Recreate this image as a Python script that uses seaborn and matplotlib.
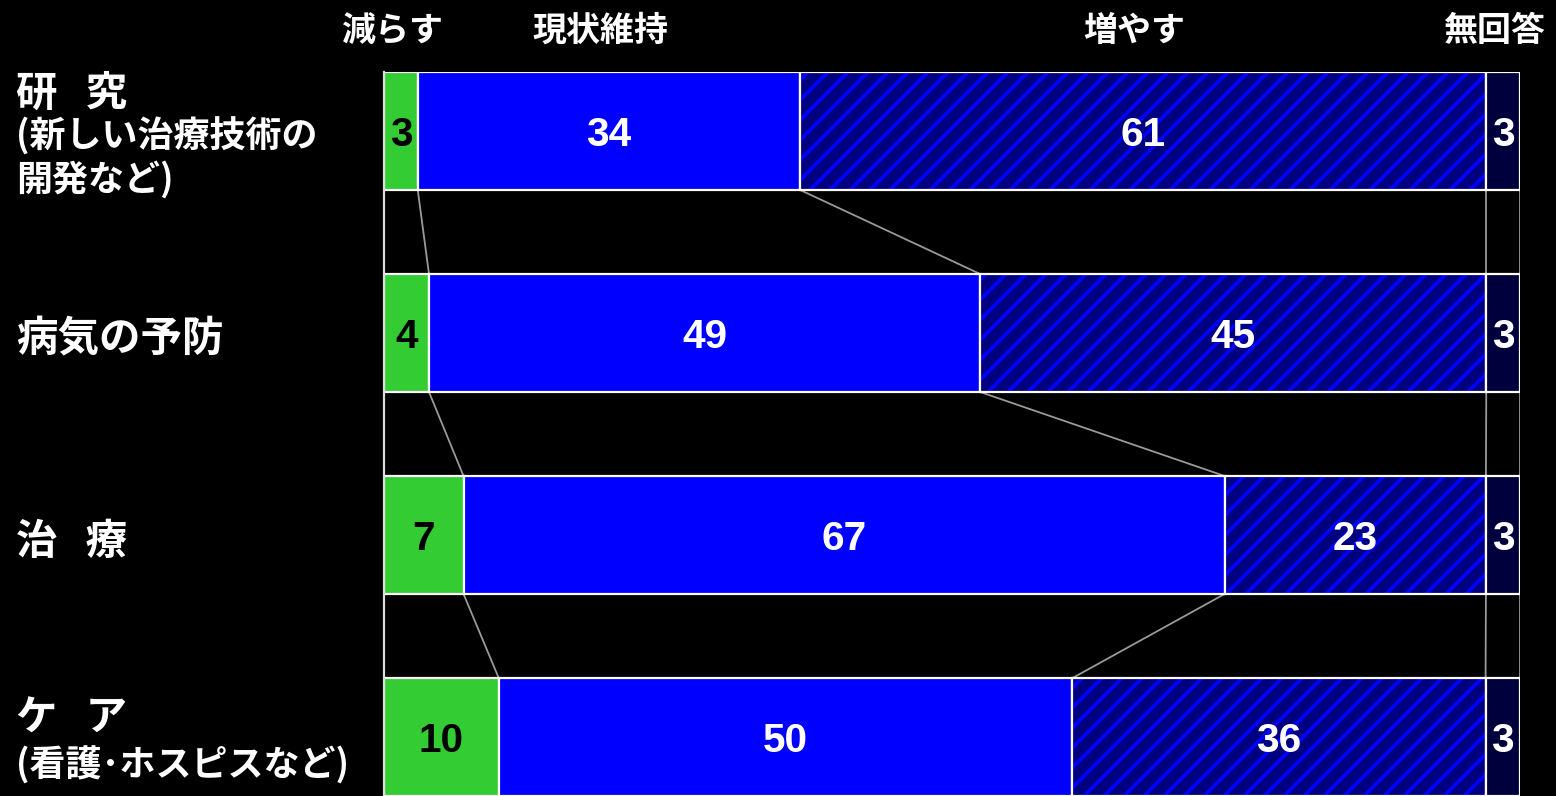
import numpy as np
import pandas as pd
import matplotlib
matplotlib.use("Agg")
import matplotlib.pyplot as plt
import seaborn as sns
from matplotlib import transforms

# --- data -------------------------------------------------------------
categories = ["研   究", "病気の予防", "治   療", "ケ   ア"]
category_notes = [["(新しい治療技術の", "開発など)"], [], [], ["(看護･ホスピスなど)"]]
series_names = ["減らす", "現状維持", "増やす", "無回答"]
decrease = [3, 4, 7, 10]
maintain = [34, 49, 67, 50]
increase = [61, 45, 23, 36]
no_answer = [3, 3, 3, 3]

# --- style ------------------------------------------------------------
W, H, DPI = 1556, 796, 120


def px(v):
    """pixels -> points at the output resolution"""
    return v * 72.0 / DPI


sns.set_style("white", {"axes.facecolor": "black", "figure.facecolor": "black"})
plt.rcParams["font.family"] = ["Noto Sans CJK JP", "DejaVu Sans"]
plt.rcParams["hatch.linewidth"] = px(3.8)

colors = ["#33CC33", "#0000FF", "#000080", "#00003C"]
text_colors = ["black", "white", "white", "white"]
hatches = [None, None, "//", None]
hatch_color = "#0000FF"
num_font = ["Liberation Sans", "DejaVu Sans"]

fig = plt.figure(figsize=(W / DPI + 1e-6, H / DPI + 1e-6), dpi=DPI)
ax = fig.add_axes([384 / W, 0, 1136 / W, 724 / H])

bar_h = 0.584
series = [decrease, maintain, increase, no_answer]
values = np.array(series, dtype=float)          # (series, category)
totals = values.sum(axis=0)
shares = values / totals * 100                  # each row stacked to 100%
lefts = np.vstack([np.zeros(len(categories)), np.cumsum(shares, axis=0)[:-1]])

for k in range(len(series)):
    df = pd.DataFrame({"category": categories, "share": shares[k]})
    if hatches[k]:
        sns.barplot(data=df, x="share", y="category", orient="h", left=lefts[k],
                    color=colors[k], saturation=1, width=bar_h, errorbar=None,
                    edgecolor=hatch_color, linewidth=0, hatch=hatches[k], ax=ax)
    else:
        sns.barplot(data=df, x="share", y="category", orient="h", left=lefts[k],
                    color=colors[k], saturation=1, width=bar_h, errorbar=None,
                    linewidth=0, ax=ax)
    # white outlines for the segments
    sns.barplot(data=df, x="share", y="category", orient="h", left=lefts[k],
                fill=False, color="white", saturation=1, width=bar_h,
                errorbar=None, linewidth=px(2.2), ax=ax)
    for i in range(len(categories)):
        ax.text(lefts[k][i] + shares[k][i] / 2, i, str(series[k][i]),
                ha="center", va="center_baseline", color=text_colors[k],
                fontsize=px(40.5), fontweight="bold", family=num_font)

# connector lines between neighbouring bars
bounds = np.cumsum(shares, axis=0)[:-1]
bounds = np.vstack([bounds, np.full(len(categories), 100.0)])
for i in range(len(categories) - 1):
    for b in bounds:
        ax.plot([b[i], b[i + 1]], [i + bar_h / 2, i + 1 - bar_h / 2],
                color="#9a9a9a", lw=px(1.8), solid_capstyle="butt", zorder=0.5)

ax.set_xlim(0, 100)
ax.set_ylim(len(categories) - 1 + 0.292, -0.292)
ax.set_xticks([])
ax.set_yticks([])
ax.set_xlabel("")
ax.set_ylabel("")
for s in ["top", "right", "bottom"]:
    ax.spines[s].set_visible(False)
ax.spines["left"].set_color("#dddddd")
ax.spines["left"].set_linewidth(px(2.2))

# series headers above the first bar
head_tr = transforms.offset_copy(
    transforms.blended_transform_factory(ax.transData, fig.transFigure),
    fig=fig, x=-9, y=0, units="dots")
for k, name in enumerate(series_names):
    ax.text(lefts[k][0] + shares[k][0] / 2, 1 - 30 / H, name, transform=head_tr,
            ha="center", va="center", color="white", fontsize=px(34),
            fontweight="bold", clip_on=False)

# category labels on the left (main line + smaller note lines)
lab_base = transforms.blended_transform_factory(fig.transFigure, ax.transData)
line_offsets = {0: [0], 1: [-25, 22], 2: [-44, -1, 43]}   # pixel offsets, downwards
for i, (cat, notes) in enumerate(zip(categories, category_notes)):
    offs = line_offsets[len(notes)]
    lines = [cat] + notes
    for j, (txt, off) in enumerate(zip(lines, offs)):
        tr = transforms.offset_copy(lab_base, fig=fig, x=0, y=-off - 2, units="dots")
        ax.text(16 / W, i, txt, transform=tr, ha="left", va="center_baseline",
                color="white", fontsize=px(41.5 if j == 0 else 36),
                fontweight="bold", clip_on=False)

fig.savefig("out.png", dpi=DPI, facecolor="black")
